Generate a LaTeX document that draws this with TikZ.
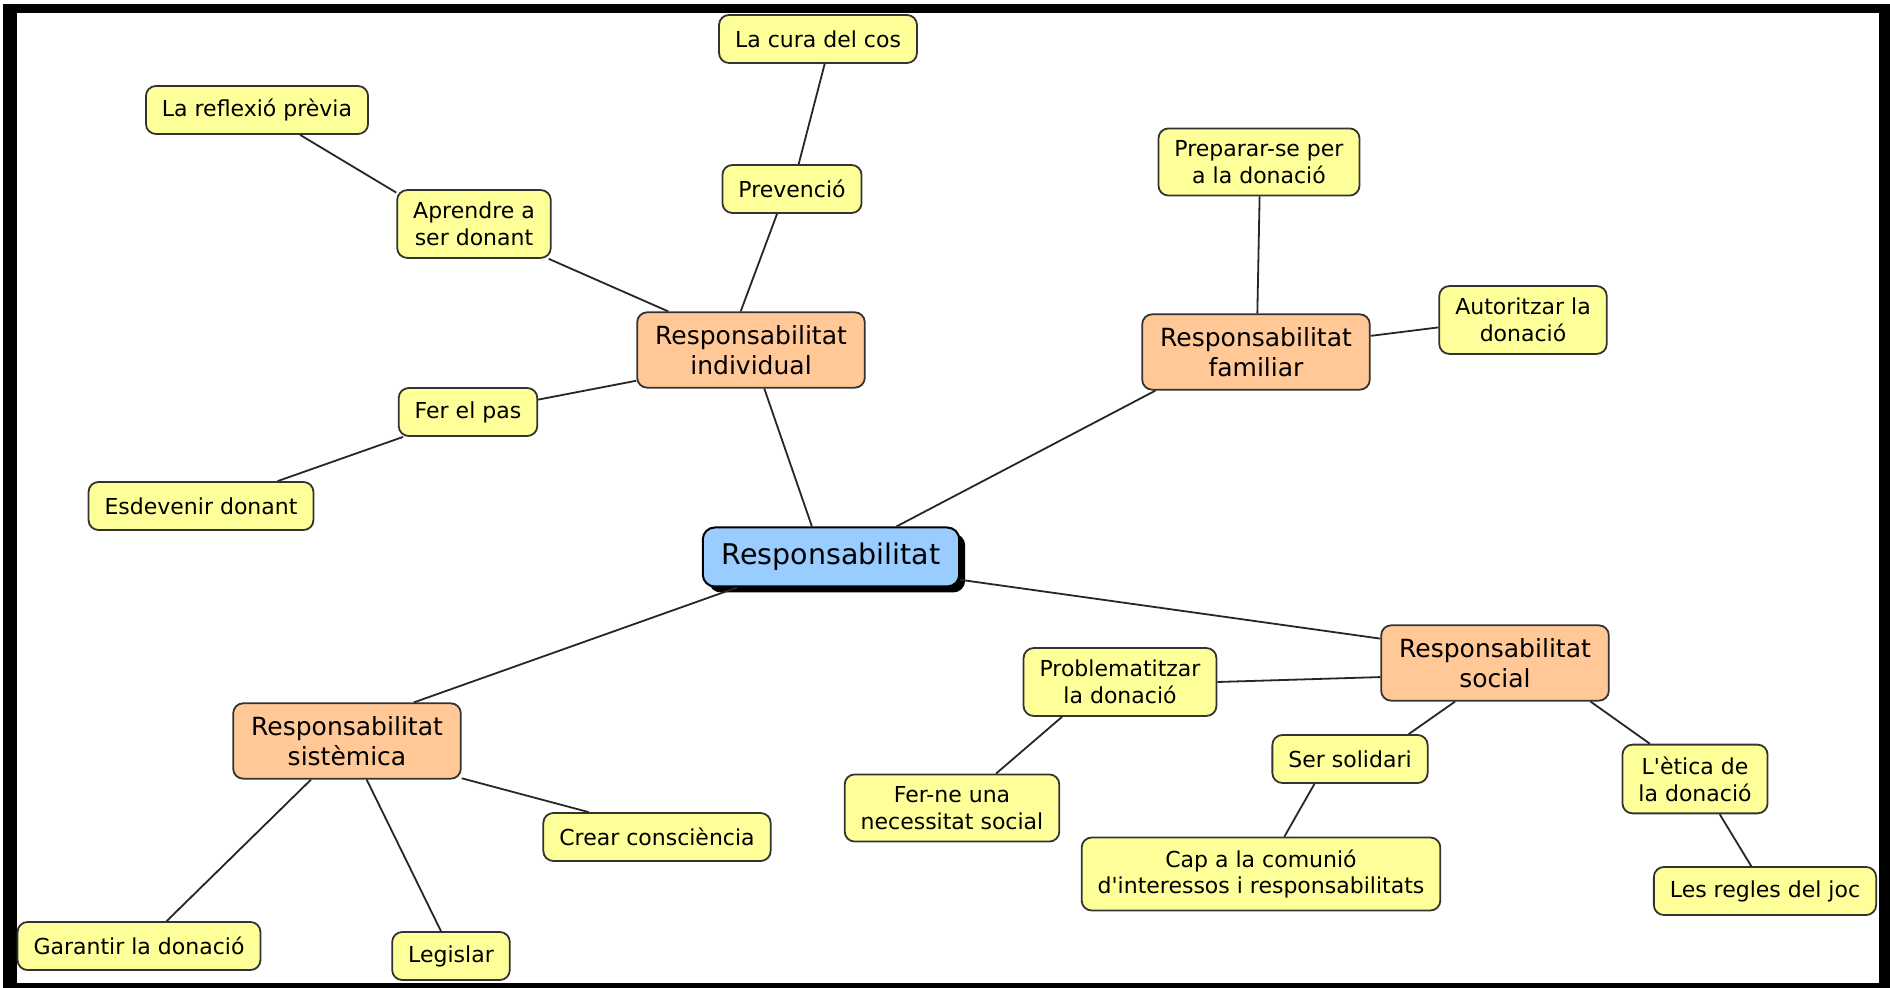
\documentclass[tikz,border=0pt]{standalone}
\usepackage{fontspec}
\setmainfont{DejaVu Sans}
\usepackage{tikz}
\usetikzlibrary{shadows}
\definecolor{leafyellow}{HTML}{FFFF99}
\definecolor{branchorange}{HTML}{FFC896}
\definecolor{rootblue}{HTML}{99CCFF}
\definecolor{edgegray}{HTML}{333333}
\tikzset{leaf/.style={rectangle, rounded corners=5pt, draw=edgegray, line width=0.9pt, fill=leafyellow, font=\fontsize{11}{13.4}\selectfont, align=center, inner xsep=8pt, inner ysep=6pt, minimum height=24pt},
branch/.style={rectangle, rounded corners=5pt, draw=edgegray, line width=0.9pt, fill=branchorange, font=\fontsize{12.5}{15}\selectfont, align=center, inner xsep=9pt, inner ysep=6.5pt},
root/.style={rectangle, rounded corners=6pt, draw=black, line width=1pt, fill=rootblue, font=\fontsize{14.25}{17}\selectfont, align=center, inner xsep=9.5pt, minimum height=29.5pt, drop shadow={shadow xshift=3pt, shadow yshift=-3pt, fill=black, opacity=1}},
link/.style={draw=black!85, line width=0.9pt}}

\begin{document}
\begin{tikzpicture}[x=0.5pt,y=-0.5pt]
		\useasboundingbox (0,0) rectangle (1890,988);
		\fill[black] (3,4) rectangle (1890,988);
		\fill[white] (17,13) rectangle (1879,983);
		% centre
		\node[root] (resp) at (831,557) {Responsabilitat};
		% branches
		\node[branch] (individual) at (751,350) {Responsabilitat\\individual};
		\node[branch] (familiar) at (1256,352) {Responsabilitat\\familiar};
		\node[branch] (social) at (1495,663) {Responsabilitat\\social};
		\node[branch] (sistemica) at (347,741) {Responsabilitat\\sistèmica};
		% leaves
		\node[leaf] (cura) at (818,39) {La cura del cos};
		\node[leaf] (reflexio) at (257,110) {La reflexió prèvia};
		\node[leaf] (prevencio) at (792,189) {Prevenció};
		\node[leaf] (aprendre) at (474,224) {Aprendre a\\ser donant};
		\node[leaf] (ferpas) at (468,412) {Fer el pas};
		\node[leaf] (esdevenir) at (201,506) {Esdevenir donant};
		\node[leaf] (preparar) at (1259,162) {Preparar-se per\\a la donació};
		\node[leaf] (autoritzar) at (1523,320) {Autoritzar la\\donació};
		\node[leaf] (problem) at (1120,682) {Problematitzar\\la donació};
		\node[leaf] (ferne) at (952,808) {Fer-ne una\\necessitat social};
		\node[leaf] (solidari) at (1350,759) {Ser solidari};
		\node[leaf] (capa) at (1261,874) {Cap a la comunió\\d\textquotesingle interessos i responsabilitats};
		\node[leaf] (etica) at (1695,779) {L\textquotesingle ètica de\\la donació};
		\node[leaf] (regles) at (1765,891) {Les regles del joc};
		\node[leaf] (crear) at (657,837) {Crear consciència};
		\node[leaf] (garantir) at (139,946) {Garantir la donació};
		\node[leaf] (legislar) at (451,956) {Legislar};
		% links
		\draw[link] (resp.122.7) -- (individual.289.4);
		\draw[link] (resp.25.5) -- (familiar.201.4);
		\draw[link] (resp.350.8) -- (social.168.6);
		\draw[link] (resp.198.5) -- (sistemica.30.6);
		\draw[link] (individual.105.3) -- (prevencio.239.3);
		\draw[link] (prevencio.75.4) -- (cura.285.3);
		\draw[link] (individual.155.1) -- (aprendre.335.7);
		\draw[link] (aprendre.158.1) -- (reflexio.330);
		\draw[link] (individual.195.8) -- (ferpas.10.6);
		\draw[link] (ferpas.201.2) -- (esdevenir.18.5);
		\draw[link] (familiar.88.4) -- (preparar.271);
		\draw[link] (familiar.8.1) -- (autoritzar.185.4);
		\draw[link] (social.187.8) -- (problem.0.6);
		\draw[link] (problem.211.2) -- (ferne.38.8);
		\draw[link] (social.224.8) -- (solidari.23.6);
		\draw[link] (solidari.215) -- (capa.58);
		\draw[link] (social.338.8) -- (etica.142.2);
		\draw[link] (etica.305.2) -- (regles.119);
		\draw[link] (sistemica.342.5) -- (crear.160.1);
		\draw[link] (sistemica.227.8) -- (garantir.42.8);
		\draw[link] (sistemica.297.1) -- (legislar.112);
		\end{tikzpicture}
\end{document}
